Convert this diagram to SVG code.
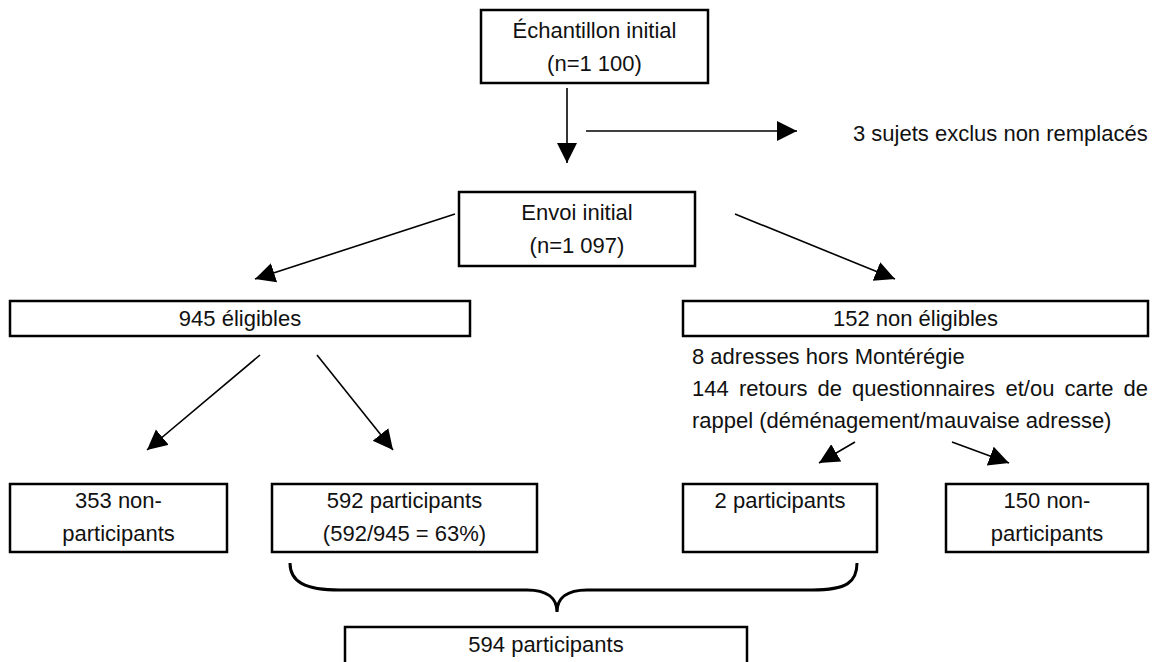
<svg xmlns="http://www.w3.org/2000/svg" width="1156" height="662" viewBox="0 0 1156 662">
<defs>
<marker id="ah" markerUnits="userSpaceOnUse" markerWidth="22" markerHeight="22" refX="20" refY="10" orient="auto"><path d="M0,0 L20,10 L0,20 z" fill="#000"/></marker>
<style>
rect{fill:#fff;stroke:#000;stroke-width:2.5}
text{font-family:"Liberation Sans",Arial,sans-serif;font-size:22px;fill:#111}
.c{text-anchor:middle}
.ln{stroke:#000;stroke-width:1.6;fill:none;marker-end:url(#ah)}
</style>
</defs>
<rect width="1156" height="662" style="fill:#fff;stroke:none"/>
<g id="connectors">
<line class="ln" x1="567" y1="88" x2="567" y2="163"/>
<line class="ln" x1="586" y1="131" x2="797" y2="131"/>
<line class="ln" x1="455" y1="214" x2="255" y2="279"/>
<line class="ln" x1="735" y1="214" x2="895" y2="279"/>
<line class="ln" x1="260" y1="355" x2="147" y2="450"/>
<line class="ln" x1="317" y1="355" x2="393" y2="450"/>
<line class="ln" x1="855" y1="442" x2="819" y2="463"/>
<line class="ln" x1="952" y1="442" x2="1009" y2="463"/>
<path d="M290,563 C290,582 305,590 340,590 L527,590 C547,590 557,598 557,612 C557,598 567,590 587,590 L812,590 C847,590 857,582 857,563" style="fill:none;stroke:#000;stroke-width:3"/>
</g>
<g id="n-echantillon"><rect x="481" y="10" width="227" height="73"/><text class="c" x="594.5" y="38">Échantillon initial</text><text class="c" x="594.5" y="71">(n=1 100)</text></g>
<g id="n-exclus"><text x="853" y="141">3 sujets exclus non remplacés</text></g>
<g id="n-envoi"><rect x="459" y="192" width="236" height="74"/><text class="c" x="577" y="220">Envoi initial</text><text class="c" x="577" y="253">(n=1 097)</text></g>
<g id="n-eligibles"><rect x="10" y="301" width="460" height="35"/><text class="c" x="240" y="326">945 éligibles</text></g>
<g id="n-noneligibles"><rect x="683" y="301" width="465" height="35"/><text class="c" x="915.5" y="326">152 non éligibles</text>
<text x="692" y="364">8 adresses hors Montérégie</text>
<text y="396"><tspan x="692">144</tspan><tspan x="739">retours</tspan><tspan x="817.5">de</tspan><tspan x="852">questionnaires</tspan><tspan x="1005.5">et/ou</tspan><tspan x="1064.5">carte</tspan><tspan x="1148" text-anchor="end">de</tspan></text>
<text x="692" y="428">rappel (déménagement/mauvaise adresse)</text></g>
<g id="n-353"><rect x="10" y="484" width="217" height="68"/><text class="c" x="118.5" y="508">353 non-</text><text class="c" x="118.5" y="541">participants</text></g>
<g id="n-592"><rect x="272" y="484" width="265" height="68"/><text class="c" x="404.5" y="508">592 participants</text><text class="c" x="404.5" y="541">(592/945 = 63%)</text></g>
<g id="n-2"><rect x="683" y="484" width="194" height="68"/><text class="c" x="780" y="508">2 participants</text></g>
<g id="n-150"><rect x="946" y="484" width="202" height="68"/><text class="c" x="1047" y="508">150 non-</text><text class="c" x="1047" y="541">participants</text></g>
<g id="n-594"><rect x="345" y="627" width="402" height="50"/><text class="c" x="546" y="652">594 participants</text></g>
</svg>
